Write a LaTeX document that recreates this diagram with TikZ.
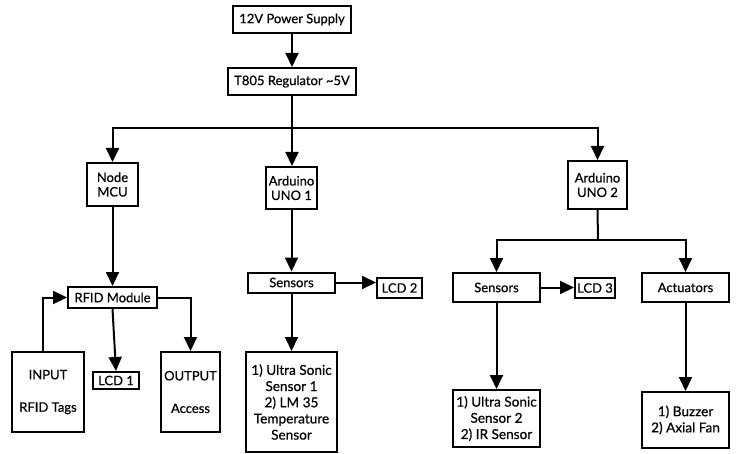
\documentclass[tikz,border=0pt]{standalone}
\usepackage{fontspec}
\setmainfont{Lato}[FakeBold=0.6]
\usetikzlibrary{arrows.meta}
\begin{document}
\begin{tikzpicture}[x=1pt,y=-1pt,
  box/.style={draw, line width=2pt, inner sep=0pt, align=center, font=\fontsize{13}{14.5}\selectfont},
  bigbox/.style={box, font=\fontsize{13.6}{16.2}\selectfont},
  arr/.style={line width=2pt, -{Triangle[length=14pt,width=13pt]}},
  ln/.style={line width=2pt}]
\useasboundingbox (0,0) rectangle (738,454);
\node[box, minimum width=118, minimum height=27] (ps) at (292,19.5) {12V Power Supply};
\node[box, minimum width=128, minimum height=27] (reg) at (292,81.5) {T805 Regulator \textasciitilde5V};
\node[box, minimum width=51, minimum height=43] (mcu) at (112.5,184.5) {Node\\MCU};
\node[box, minimum width=51, minimum height=42] (uno1) at (291.5,188) {Arduino\\UNO 1};
\node[box, minimum width=59, minimum height=48] (uno2) at (597.5,185) {Arduino\\UNO 2};
\node[box, minimum width=89, minimum height=21] (rfid) at (112.5,297.5) {RFID Module};
\node[box, minimum width=72, minimum height=80] (input) at (48,392) {INPUT\\[18pt]RFID Tags};
\node[box, minimum width=46, minimum height=17] (lcd1) at (116,380.5) {LCD 1};
\node[box, minimum width=59, minimum height=80] (output) at (190.5,392) {OUTPUT\\[18pt]Access};
\node[box, minimum width=87, minimum height=20] (sens1) at (291.5,282.5) {Sensors};
\node[box, minimum width=45, minimum height=20] (lcd2) at (399.5,288) {LCD 2};
\node[bigbox, minimum width=91, minimum height=100] (s1box) at (291.5,402) {1) Ultra Sonic\\Sensor 1\\2) LM 35\\Temperature\\Sensor};
\node[box, minimum width=87, minimum height=29] (sens2) at (496.5,287.5) {Sensors};
\node[box, minimum width=40, minimum height=20] (lcd3) at (595,288) {LCD 3};
\node[box, minimum width=87, minimum height=29] (act) at (685.5,287.5) {Actuators};
\node[bigbox, minimum width=87, minimum height=57] (s2box) at (496.5,418.5) {1) Ultra Sonic\\Sensor 2\\2) IR Sensor};
\node[bigbox, minimum width=87, minimum height=56] (actbox) at (685.5,420) {1) Buzzer\\2) Axial Fan};
\coordinate (j1) at (292,128);
\coordinate (j2) at (598,240);
\draw[arr] (ps) -- (reg);
\draw[arr] (reg.south) -- (uno1.north -| reg.south);
\draw[arr] (j1) -| (mcu.north);
\draw[arr] (j1) -| (uno2.north);
\draw[arr] (mcu) -- (rfid);
\draw[arr] ([xshift=-5pt]input.north) |- (rfid.west);
\draw[arr] (rfid.south) -- (lcd1.north);
\draw[arr] (rfid.east) -| (output.north);
\draw[arr] (uno1) -- (sens1);
\draw[arr] (sens1.east) -- (sens1.east -| lcd2.west);
\draw[arr] (sens1) -- (s1box);
\draw[ln] (uno2.south) -- (j2);
\draw[arr] (j2) -| (sens2.north);
\draw[arr] (j2) -| (act.north);
\draw[arr] (sens2.east) -- (sens2.east -| lcd3.west);
\draw[arr] (sens2) -- (s2box);
\draw[arr] (act) -- (actbox);
\end{tikzpicture}
\end{document}
